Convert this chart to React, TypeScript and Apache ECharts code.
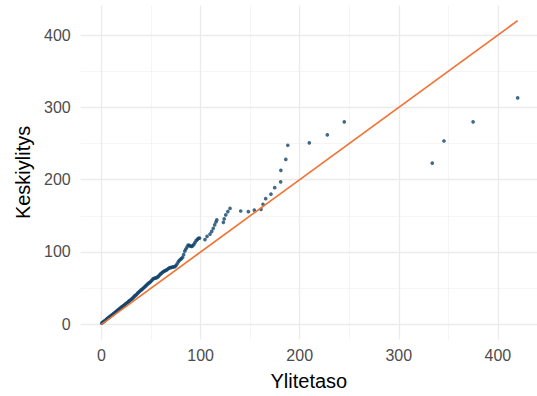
import React, { useEffect, useRef } from "react";
import * as echarts from "echarts";

// Mean excess plot: threshold (Ylitetaso) vs. mean excess (Keskiylitys)
const thresholds: number[] = [
  0.2, 1.0, 1.8, 2.5, 3.3, 4.0, 4.9, 5.7, 6.4, 7.2, 8.1, 8.9, 9.6, 10.5, 11.3, 12.0,
  12.9, 13.7, 14.5, 15.4, 16.2, 17.0, 17.9, 18.8, 19.6, 20.5, 21.4, 22.3, 23.1, 24.0,
  24.9, 25.8, 26.7, 27.5, 28.4, 29.3, 30.3, 31.2, 32.1, 33.0, 33.9, 34.9, 35.8, 36.7,
  37.6, 38.6, 39.5, 40.5, 41.4, 42.4, 43.3, 44.3, 45.3, 46.2, 47.2, 48.2, 49.1, 50.1,
  51.0, 52.0, 53.0, 54.0, 55.0, 56.0, 57.1, 58.1, 59.1, 60.1, 61.2, 62.2, 63.3, 64.3,
  65.3, 66.4, 67.4, 68.5, 69.6, 70.7, 71.8, 72.9, 74.0, 75.1, 76.2, 77.3, 78.4, 79.5,
  80.6, 81.8, 82.9, 84.0, 85.1, 86.3, 87.4, 88.5, 89.7, 90.9, 92.0, 93.2, 94.3, 95.5,
  96.7, 97.8, 99.0,
  104.4, 106.5, 109.5, 111.2, 112.8, 114.2, 115.5, 116.4, 123.0, 123.8, 125.4, 127.5,
  129.7, 140.5, 148.2, 154.2, 161.0, 163.0, 165.7, 171.0, 174.8, 180.8, 181.0, 186.0,
  188.0, 209.7, 227.9, 245.0, 333.8, 345.6, 375.0, 420.0,
];

const meanExcess: number[] = [
  1.6, 2.5, 3.3, 4.0, 4.9, 5.6, 6.8, 7.6, 8.5, 9.2, 10.2, 11.0, 11.9, 12.8, 13.6, 14.5,
  15.4, 16.6, 17.4, 18.3, 19.2, 20.1, 21.3, 22.2, 23.2, 24.1, 25.0, 26.0, 26.7, 27.9,
  28.8, 29.8, 30.7, 31.6, 32.7, 33.6, 34.8, 36.0, 37.1, 38.5, 39.6, 40.6, 41.9, 43.4,
  44.6, 45.7, 46.9, 48.1, 49.0, 50.2, 51.4, 52.7, 54.0, 55.3, 56.6, 57.5, 58.4, 59.8,
  61.2, 62.7, 63.4, 63.7, 64.2, 64.9, 65.9, 67.4, 69.0, 70.2, 71.6, 72.6, 73.5, 74.2,
  74.9, 75.8, 77.2, 77.9, 78.3, 78.6, 79.1, 79.6, 79.9, 81.2, 83.4, 86.0, 88.1, 89.6,
  90.8, 92.7, 96.3, 101.2, 103.9, 106.8, 109.6, 109.1, 108.2, 107.8, 108.6, 110.4, 112.9, 115.7,
  117.4, 118.8, 119.3,
  117.2, 121.5, 124.8, 128.5, 132.8, 137.5, 141.5, 144.4, 141.0, 145.8, 151.2, 155.9,
  160.2, 156.7, 155.8, 158.0, 159.0, 166.0, 173.7, 180.0, 189.0, 197.0, 213.0, 228.0,
  247.6, 251.0, 262.0, 280.0, 223.0, 253.5, 280.0, 313.0,
];

// Reference line y = x between these two thresholds
const refLine: number[] = [0, 420];

const tickValues: number[] = [0, 100, 200, 300, 400];
const minorValues: number[] = [50, 150, 250, 350];

const FONT = "'Liberation Sans', Arial, Helvetica, sans-serif";

export default function App() {
  const ref = useRef<HTMLDivElement>(null);

  useEffect(() => {
    if (!ref.current) return;
    const chart = echarts.init(ref.current, null, { renderer: "svg" });

    const points = thresholds.map((x, i) => [x, meanExcess[i]]);
    const major = { color: "#ebebeb", width: 1.3, type: "solid" as const };
    const minor = { color: "#f2f2f2", width: 0.8, type: "solid" as const };

    const gridLines = [
      ...minorValues.map((v) => ({ xAxis: v, lineStyle: minor })),
      ...minorValues.map((v) => ({ yAxis: v, lineStyle: minor })),
      ...tickValues.map((v) => ({ xAxis: v, lineStyle: major })),
      ...tickValues.map((v) => ({ yAxis: v, lineStyle: major })),
    ];

    const axisCommon = {
      type: "value" as const,
      nameLocation: "middle" as const,
      nameTextStyle: { color: "#000000", fontSize: 20, fontFamily: FONT },
      axisLine: { show: false, onZero: false },
      axisTick: { show: false },
      splitLine: { show: false },
      minorSplitLine: { show: false },
    };

    chart.setOption({
      animation: false,
      backgroundColor: "#ffffff",
      grid: { left: 80.7, right: 0, top: 5.4, bottom: 56.5, containLabel: false },
      xAxis: {
        ...axisCommon,
        min: -21,
        max: 439.5,
        name: "Ylitetaso",
        nameGap: 31,
        axisLabel: {
          customValues: tickValues,
          color: "#4d4d4d",
          fontSize: 16,
          fontFamily: FONT,
          margin: 8,
        },
      },
      yAxis: {
        ...axisCommon,
        min: -21,
        max: 441,
        name: "Keskiylitys",
        nameGap: 46,
        axisLabel: {
          customValues: tickValues,
          color: "#4d4d4d",
          fontSize: 16,
          fontFamily: FONT,
          margin: 10,
        },
      },
      series: [
        {
          type: "line",
          data: [],
          z: 0,
          silent: true,
          markLine: {
            silent: true,
            z: 0,
            zlevel: 0,
            symbol: "none",
            label: { show: false },
            data: gridLines,
          },
        },
        {
          type: "scatter",
          data: points,
          symbol: "circle",
          symbolSize: 3.7,
          itemStyle: { color: "#12436b" },
          z: 6,
          silent: true,
        },
        {
          type: "line",
          data: refLine.map((v) => [v, v]),
          showSymbol: false,
          symbol: "none",
          lineStyle: { color: "#f07334", width: 1.7 },
          z: 8,
          silent: true,
        },
      ],
    });

    return () => chart.dispose();
  }, []);

  return (
    <div
      ref={ref}
      style={{ position: "absolute", left: 0, top: 0, width: 537, height: 396 }}
    />
  );
}
